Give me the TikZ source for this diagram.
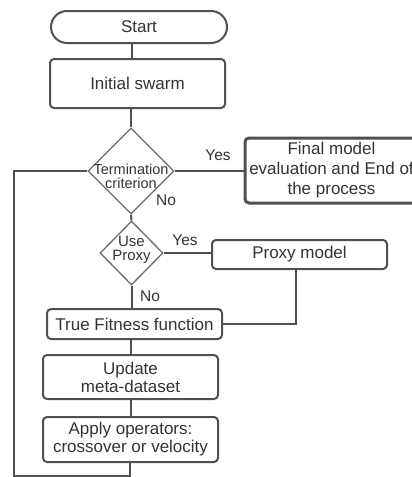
\documentclass[tikz,border=0pt]{standalone}
\usepackage{fontspec}
\setmainfont{Liberation Sans}
\usetikzlibrary{shapes.geometric}
\definecolor{linegray}{HTML}{505050}
\definecolor{diagray}{HTML}{6A6A6A}
\definecolor{textgray}{HTML}{333333}
\begin{document}
\begin{tikzpicture}[x=1pt,y=-1pt,
  every node/.style={text=textgray},
  box/.style={draw=linegray,line width=2pt,rounded corners=4pt,inner sep=0pt,
    align=center,font=\fontsize{17}{18}\selectfont},
  decision/.style={draw=diagray,line width=1.3pt,diamond,inner sep=0pt,aspect=1},
  lbl/.style={font=\fontsize{15.5}{16}\selectfont,inner sep=0pt},
  conn/.style={draw=linegray,line width=2pt}]
\useasboundingbox (0,0) rectangle (412,477);

% process boxes
\node[box,rounded corners=16pt,minimum width=176pt,minimum height=32pt] (start) at (139,27) {Start};
\node[box,minimum width=175pt,minimum height=49pt] (init) at (137.5,83.5) {Initial swarm};
\node[decision,minimum width=86pt,minimum height=86pt,
  label={[align=center,font=\fontsize{14.5}{14}\selectfont,text=textgray,yshift=-5pt]center:Termination\\criterion}] (term) at (131,171) {};
\node[box,line width=3pt,minimum width=173pt,minimum height=65pt,
  font=\fontsize{17}{20}\selectfont] (final) at (331.5,170.5) {Final model\\evaluation and End of\\the process};
\node[decision,minimum width=63pt,minimum height=64pt,
  label={[align=center,font=\fontsize{15}{14}\selectfont,text=textgray,yshift=3pt]center:Use\\Proxy}] (useproxy) at (131.5,253) {};
\node[box,minimum width=175pt,minimum height=29pt] (proxy) at (299.5,254.5) {Proxy model};
\node[box,minimum width=175pt,minimum height=30pt] (truefit) at (134.5,324) {True Fitness function};
\node[box,minimum width=175pt,minimum height=44pt] (update) at (130.5,377) {Update\\meta-dataset};
\node[box,minimum width=175pt,minimum height=45pt] (apply) at (130.5,439.5) {Apply operators:\\crossover or velocity};

% loop return point
\coordinate (loopturn) at (130,476);

% connectors
\draw[conn] (start.south -| 132,0) -- (init.north -| 132,0);
\draw[conn] (init.south -| term.north) -- (term.north);
\draw[conn] (term.east) -- (final.west |- term.east);
\draw[conn] (term.south) -- (useproxy.north);
\draw[conn] (useproxy.east) -- (proxy.west |- useproxy.east);
\draw[conn] (useproxy.south) -- (truefit.north -| useproxy.south);
\draw[conn] ([xshift=-3.5pt]proxy.south) |- (truefit.east);
\draw[conn] (truefit.south -| 131,0) -- (update.north -| 131,0);
\draw[conn] (update.south -| 131,0) -- (apply.north -| 131,0);
\draw[conn] (apply.south -| loopturn) -- (loopturn) -| (14,171) -- (term.west);

% branch labels
\node[lbl] (yes1) at (218,155) {Yes};
\node[lbl] (no1) at (166,200) {No};
\node[lbl] (yes2) at (185,240) {Yes};
\node[lbl] (no2) at (150,296) {No};
\end{tikzpicture}
\end{document}
